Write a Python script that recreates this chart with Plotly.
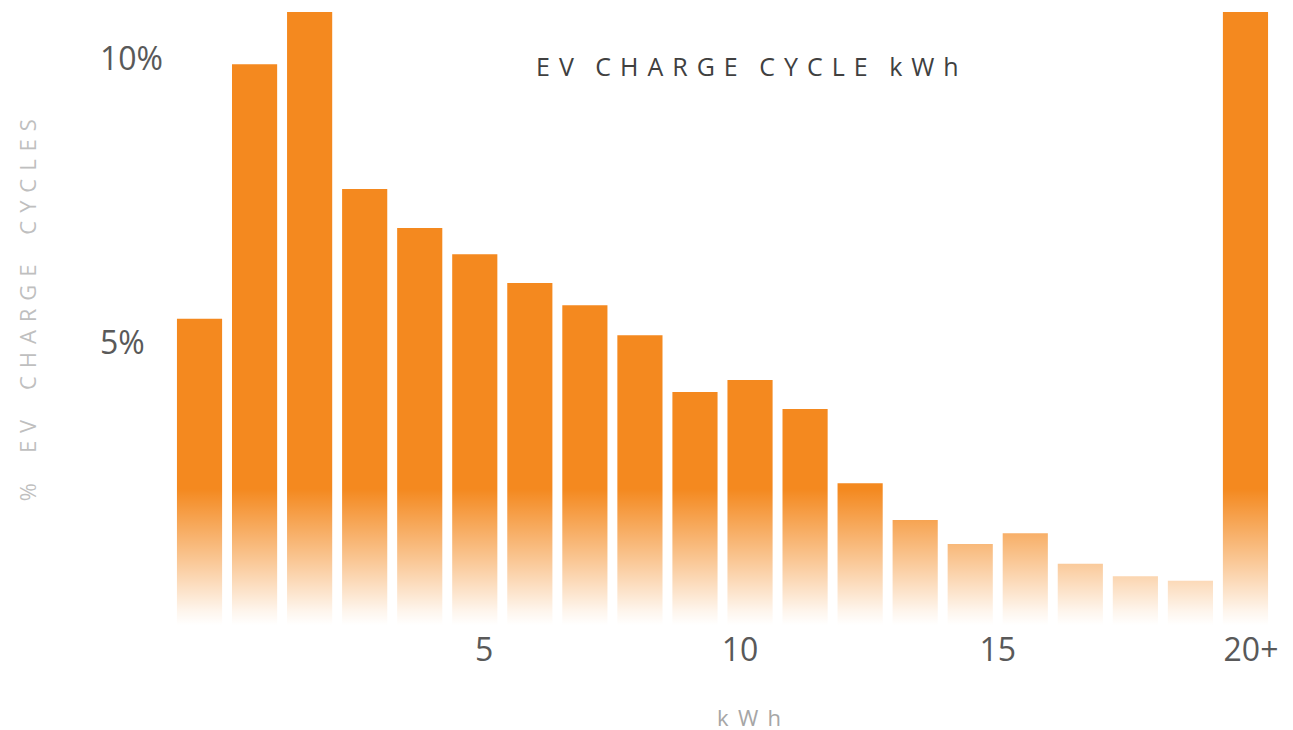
import plotly.graph_objects as go

# ---- data ----
bins = list(range(1, 21))
share_pct = [5.40, 9.89, 11.0, 7.69, 7.00, 6.54, 6.03, 5.64, 5.11, 4.11,
             4.32, 3.81, 2.50, 1.85, 1.43, 1.62, 1.08, 0.86, 0.78, 11.0]
x_tick_text = ["5", "10", "15", "20+"]
x_tick_pos = [6.17, 10.82, 15.5, 20.1]
y_tick_text = ["10%", "5%"]
y_tick_vals = [10, 5]

ORANGE = "#F4891F"
FONT = "Open Sans"
Y_MAX = 10.81
FADE_TOP = 2.4

fig = go.Figure()
fig.add_trace(go.Bar(x=bins, y=share_pct, marker=dict(color=ORANGE, line=dict(width=0)),
                     hoverinfo="skip"))
# white fade overlay at the bottom of the bars
fig.add_trace(go.Scatter(
    x=[0.5, 20.5, 20.5, 0.5, 0.5], y=[0, 0, FADE_TOP, FADE_TOP, 0],
    mode="lines", line=dict(width=0), fill="toself",
    fillgradient=dict(type="vertical",
                      colorscale=[[0, "rgba(255,255,255,1)"],
                                  [0.1, "rgba(255,255,255,0.92)"],
                                  [0.5, "rgba(255,255,255,0.5)"],
                                  [1, "rgba(255,255,255,0)"]]),
    hoverinfo="skip", showlegend=False))

LETTER_GAP = "\u00a0\u200a"


def spaced(s, word_gap, letter_gap=LETTER_GAP):
    return word_gap.join(letter_gap.join(ch for ch in w) for w in s.split(" "))


annotations = []
for t, v in zip(y_tick_text, y_tick_vals):
    annotations.append(dict(text=t, xref="paper", yref="y", x=-0.0672, y=v,
                            xanchor="left", yanchor="middle", showarrow=False,
                            font=dict(family=FONT, size=32, color="#595959")))
annotations.append(dict(text=spaced("EV CHARGE CYCLE kWh", LETTER_GAP + "\u2002"),
                        xref="paper", yref="paper",
                        x=0.523, y=0.912, xanchor="center", yanchor="middle",
                        showarrow=False, font=dict(family=FONT, size=25, color="#404040")))
annotations.append(dict(text=spaced("% EV CHARGE CYCLES", LETTER_GAP + "\u2002\u2002"),
                        xref="paper", yref="paper",
                        x=-0.132, y=0.513, xanchor="center", yanchor="middle",
                        textangle=-90, showarrow=False,
                        font=dict(family=FONT, size=22, color="#BFBFBF")))
annotations.append(dict(text=spaced("kWh", "", "\u00a0\u2009"), xref="paper", yref="paper",
                        x=0.524, y=-0.150, xanchor="center", yanchor="middle",
                        showarrow=False, font=dict(family=FONT, size=22, color="#A6A6A6")))

fig.update_layout(
    width=1293, height=730,
    margin=dict(l=164, r=28, t=4, b=113),
    plot_bgcolor="white", paper_bgcolor="white",
    showlegend=False, bargap=0.18,
    xaxis=dict(range=[0.5, 20.5], tickmode="array", tickvals=x_tick_pos,
               ticktext=x_tick_text, showgrid=False, zeroline=False, showline=False,
               ticks="", tickfont=dict(family=FONT, size=32, color="#595959"),
               ticklabelstandoff=3),
    yaxis=dict(range=[0, Y_MAX], showticklabels=False, showgrid=False,
               zeroline=False, showline=False, ticks=""),
    annotations=annotations,
)

fig.write_html("out.html")
